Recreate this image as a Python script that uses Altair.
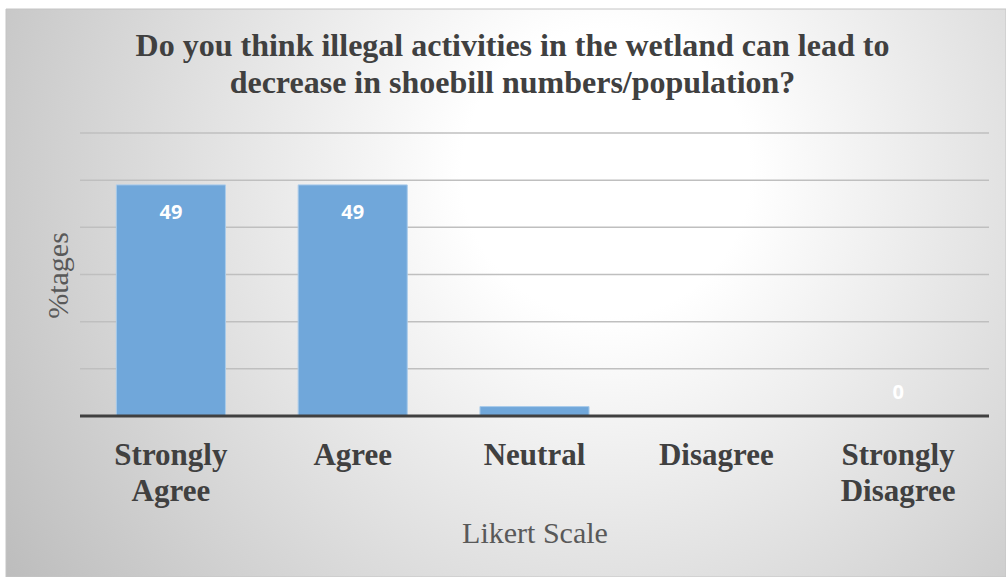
import altair as alt
import pandas as pd

# Survey responses (percentage of respondents) on the Likert scale
categories = ["Strongly Agree", "Agree", "Neutral", "Disagree", "Strongly Disagree"]
percentages = [49, 49, 2, 0, 0]
value_labels = ["49", "49", "", "", "0"]
grid_values = [10, 20, 30, 40, 50, 60]

df = pd.DataFrame({"category": categories, "pct": percentages, "label": value_labels})
grid_df = pd.DataFrame({"g": grid_values})
bg_df = pd.DataFrame({"k": [0]})

PLOT_W, PLOT_H = 909, 283
SERIF = "Liberation Serif"
TEXT = "#404040"

x_axis = alt.Axis(
    title="Likert Scale",
    titleFont=SERIF,
    titleFontSize=30,
    titleFontWeight="normal",
    titleColor="#595959",
    titleBaseline="middle",
    titleY=117,
    labelExpr="split(datum.label, ' ')",
    labelFont=SERIF,
    labelFontSize=31,
    labelFontWeight="bold",
    labelColor=TEXT,
    labelLineHeight=36,
    labelPadding=24,
    labelAngle=0,
    ticks=False,
    domain=False,
    grid=False,
    zindex=2,
)
y_axis = alt.Axis(
    title="%tages",
    titleFont=SERIF,
    titleFontSize=30,
    titleFontWeight="normal",
    titleColor="#595959",
    titleAngle=270,
    titleBaseline="middle",
    titleX=-22,
    titleY=142,
    labels=False,
    ticks=False,
    domain=False,
    grid=False,
    zindex=2,
)
x_scale = alt.Scale(paddingInner=0.4, paddingOuter=0.2)
y_scale = alt.Scale(domain=[0, 60], nice=False)

# Soft radial backdrop spanning the whole chart
backdrop = alt.Chart(bg_df).mark_rect(
    fill=alt.RadialGradient(
        gradient="radial",
        stops=[
            alt.GradientStop(offset=0, color="#ffffff"),
            alt.GradientStop(offset=0.2, color="#ffffff"),
            alt.GradientStop(offset=1, color="#bdbdbd"),
        ],
        x1=0.6, y1=0.38, r1=0,
        x2=0.6, y2=0.38, r2=0.72,
    ),
    stroke="#c4c4c4",
    strokeWidth=1,
).encode(
    x=alt.value(-74), x2=alt.value(926),
    y=alt.value(-124), y2=alt.value(444),
)

grid = alt.Chart(grid_df).mark_rule(color="#bfbfbf", strokeWidth=1.5).encode(
    y=alt.Y("g:Q", scale=y_scale, axis=y_axis)
)

bars = alt.Chart(df).mark_bar(
    color="#70a7da", stroke="#a9cbea", strokeWidth=1
).encode(
    x=alt.X("category:N", sort=categories, scale=x_scale, axis=x_axis),
    y=alt.Y("pct:Q", scale=y_scale, axis=y_axis),
)

text_style = dict(color="white", font="Open Sans", fontWeight="bold", fontSize=20, baseline="middle")
pos = dict(
    x=alt.X("category:N", sort=categories, scale=x_scale, axis=x_axis),
    y=alt.Y("pct:Q", scale=y_scale, axis=y_axis),
    text="label:N",
)

inside = alt.Chart(df).transform_filter("datum.pct > 10").mark_text(dy=28, **text_style).encode(**pos)
outside = alt.Chart(df).transform_filter("datum.pct <= 10").mark_text(dy=-23, **text_style).encode(**pos)

baseline = alt.Chart(bg_df).mark_rule(color="#404040", strokeWidth=3).encode(
    y=alt.value(PLOT_H)
)

chart = alt.layer(backdrop, grid, bars, baseline, inside, outside).properties(
    width=PLOT_W,
    height=PLOT_H,
    title=alt.TitleParams(
        text=["Do you think illegal activities in the wetland can lead to",
              "decrease in shoebill numbers/population?"],
        font=SERIF,
        fontSize=32,
        fontWeight="bold",
        color=TEXT,
        lineHeight=37,
        anchor="middle",
        frame="group",
        dx=-22,
        dy=91,
        offset=0,
        zindex=2,
    ),
    autosize=alt.AutoSizeParams(type="none"),
    padding={"left": 80, "top": 133, "right": 17, "bottom": 161},
).configure_view(stroke=None)

chart.save("out.html", embed_options={"renderer": "svg", "actions": False})
